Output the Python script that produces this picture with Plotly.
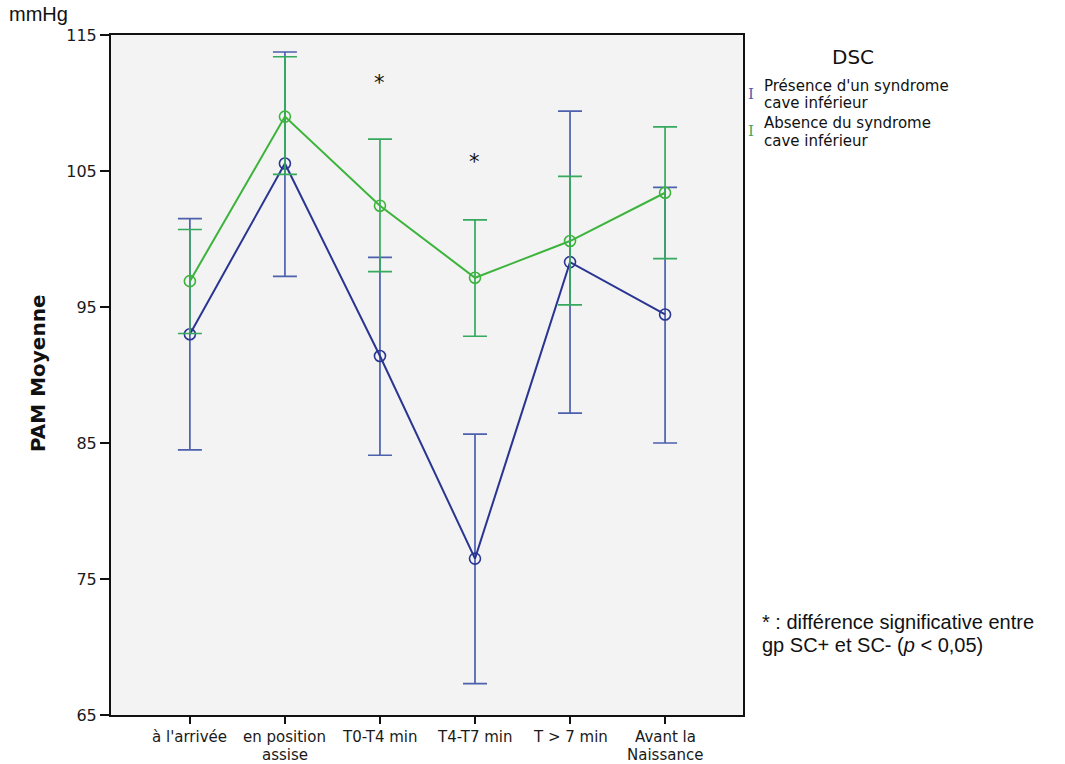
import plotly.graph_objects as go

# Measurement moments (x categories); "<br>" marks a second label line
categories = ["à l'arrivée", "en position<br>assise", "T0-T4 min",
              "T4-T7 min", "T > 7 min", "Avant la<br>Naissance"]

# Mean arterial pressure (mmHg) and 95% CI bounds per group
presence_mean = [93.0, 105.55, 91.4, 76.5, 98.3, 94.45]
presence_upper = [101.5, 113.75, 98.65, 85.65, 109.4, 103.8]
presence_lower = [84.5, 97.25, 84.1, 67.3, 87.2, 85.0]

absence_mean = [96.9, 109.0, 102.45, 97.15, 99.85, 103.4]
absence_upper = [100.7, 113.4, 107.35, 101.4, 104.6, 108.25]
absence_lower = [93.05, 104.75, 97.6, 92.85, 95.15, 98.55]

y_ticks = [65, 75, 85, 95, 105, 115]

# Significance markers: (category index, height)
stars = [(2, 111.5), (3, 105.65)]

legend_title = "DSC"
legend_labels = [["Présence d'un syndrome", "cave inférieur"],
                 ["Absence du syndrome", "cave inférieur"]]
footnote = ["* : différence significative entre",
            "gp SC+ et SC- (<i>p</i> < 0,05)"]

BLUE_LINE = "#2a3592"
BLUE_BAR = "#4c60ad"
GREEN_LINE = "#3cb43c"
GREEN_BAR = "#35a95e"

SANS = "DejaVu Sans"
ARIAL = "Liberation Sans, Arial"

W, H = 1065, 764
L, R, T, B = 111, 322, 35, 49
pw, ph = W - L - R, H - T - B

fig = go.Figure()


def add_group(mean, upper, lower, line_color, bar_color, name):
    fig.add_trace(go.Scatter(
        x=categories, y=mean, name=name, mode="lines+markers",
        line=dict(color=line_color, width=2),
        marker=dict(symbol="circle-open", size=11,
                    line=dict(color=line_color, width=1.6)),
        error_y=dict(type="data", symmetric=False,
                     array=[u - m for u, m in zip(upper, mean)],
                     arrayminus=[m - l for m, l in zip(mean, lower)],
                     color=bar_color, thickness=1.7, width=12),
        showlegend=False,
    ))


add_group(presence_mean, presence_upper, presence_lower,
          BLUE_LINE, BLUE_BAR, "Présence d'un syndrome cave inférieur")
add_group(absence_mean, absence_upper, absence_lower,
          GREEN_LINE, GREEN_BAR, "Absence du syndrome cave inférieur")


def px_note(x, y, text, size, family, color="#111", xanchor="left", **kw):
    """Annotation placed by pixel position on the page."""
    return dict(x=(x - L) / pw, y=1 - (y - T) / ph, xref="paper", yref="paper",
                text=text, showarrow=False, xanchor=xanchor, yanchor="middle",
                borderpad=0,
                font=dict(family=family, size=size, color=color), **kw)


annotations = []

# Category labels under the x axis, one annotation per line for tight spacing
for cat in categories:
    for i, line in enumerate(cat.split("<br>")):
        annotations.append(dict(
            x=cat, xref="x", y=1 - (737 + 17.5 * i - T) / ph, yref="paper",
            text=line, showarrow=False, xanchor="center", yanchor="middle",
            borderpad=0, font=dict(family=SANS, size=15, color="#1a1a1a")))

for idx, yv in stars:
    annotations.append(dict(x=categories[idx], y=yv, xref="x", yref="y",
                            text="*", showarrow=False,
                            font=dict(family=SANS, size=21, color="#111")))

# Unit label and y-axis title
annotations.append(px_note(8, 14, "mmHg", 20, ARIAL))
annotations.append(px_note(38, 374, "<b>PAM Moyenne</b>", 20, SANS,
                           xanchor="center", textangle=-90))

# Legend block
annotations.append(px_note(853, 57, legend_title, 20, SANS, xanchor="center"))
for k, (lines, col) in enumerate(zip(legend_labels, [BLUE_BAR, GREEN_BAR])):
    y0 = 86 + 37 * k
    annotations.append(px_note(751, y0 + 8, "I", 15, "DejaVu Serif", color=col,
                               xanchor="center"))
    for j, line in enumerate(lines):
        annotations.append(px_note(763, y0 + 17.5 * j, line, 15, SANS))

# Footnote
for j, line in enumerate(footnote):
    annotations.append(px_note(761, 622 + 23 * j, line, 20, ARIAL))

fig.update_layout(
    width=W, height=H,
    margin=dict(l=L, r=R, t=T, b=B, pad=0),
    paper_bgcolor="white",
    plot_bgcolor="#f3f3f3",
    annotations=annotations,
    xaxis=dict(
        type="category", range=[-0.83, 5.82],
        showgrid=False, zeroline=False, showticklabels=False,
        showline=True, linecolor="#111", linewidth=2, mirror=True,
        ticks="outside", ticklen=7, tickwidth=2, tickcolor="#111",
    ),
    yaxis=dict(
        range=[65, 115], tickvals=y_ticks,
        showgrid=False, zeroline=False,
        showline=True, linecolor="#111", linewidth=2, mirror=True,
        ticks="outside", ticklen=9, tickwidth=2, tickcolor="#111",
        tickfont=dict(family=SANS, size=16, color="#1a1a1a"),
    ),
)

fig.write_html("out.html")
